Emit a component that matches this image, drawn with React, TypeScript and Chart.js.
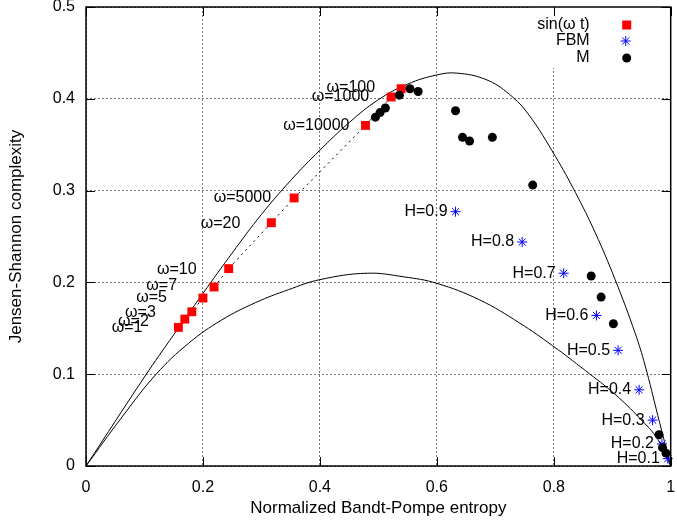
import React, { useEffect, useRef } from 'react';
import { Chart, registerables } from 'chart.js';

Chart.register(...registerables);

const FONT = "'Liberation Sans', Arial, Helvetica, sans-serif";

// Upper (maximum complexity) boundary
const upperH = [0, 0.1, 0.15, 0.2, 0.25, 0.3, 0.35, 0.4, 0.45, 0.5, 0.55, 0.6, 0.634, 0.684, 0.724, 0.758, 0.803, 0.837, 0.871, 0.905, 0.939, 0.956, 0.978, 1];
const upperC = [0, 0.097, 0.143, 0.188, 0.232, 0.274, 0.311, 0.344, 0.374, 0.399, 0.416, 0.426, 0.428, 0.421, 0.405, 0.382, 0.337, 0.298, 0.254, 0.203, 0.145, 0.11, 0.055, 0];

// Lower (minimum complexity) boundary
const lowerH = [0, 0.06, 0.12, 0.176, 0.232, 0.29, 0.346, 0.4, 0.481, 0.544, 0.6, 0.673, 0.741, 0.798, 0.854, 0.905, 0.947, 0.978, 1];
const lowerC = [0, 0.052, 0.1, 0.134, 0.159, 0.178, 0.192, 0.203, 0.21, 0.206, 0.199, 0.181, 0.156, 0.131, 0.104, 0.078, 0.052, 0.029, 0];

// sin(ω t)
const sinH = [0.158, 0.169, 0.181, 0.2, 0.219, 0.244, 0.317, 0.356, 0.478, 0.522, 0.539];
const sinC = [0.151, 0.16, 0.168, 0.183, 0.195, 0.215, 0.265, 0.292, 0.371, 0.402, 0.411];
const sinLabels = ['ω=1', 'ω=2', 'ω=3', 'ω=5', 'ω=7', 'ω=10', 'ω=20', 'ω=5000', 'ω=10000', 'ω=1000', 'ω=100'];
const sinLabelDx = [-36, -36, -36, -36, -37, -32, -31, -23, -16, -22, -26];
const sinLabelDy = [0, 2, 1, 0, -1, 1, 1, 0, 0, 0, -1];

// FBM
const fbmH = [0.632, 0.746, 0.817, 0.873, 0.91, 0.946, 0.969, 0.985, 0.995];
const fbmC = [0.277, 0.244, 0.21, 0.164, 0.126, 0.083, 0.05, 0.024, 0.008];
const fbmLabels = ['H=0.9', 'H=0.8', 'H=0.7', 'H=0.6', 'H=0.5', 'H=0.4', 'H=0.3', 'H=0.2', 'H=0.1'];

// M
const mH = [0.495, 0.503, 0.512, 0.536, 0.554, 0.568, 0.632, 0.644, 0.656, 0.695, 0.764, 0.864, 0.881, 0.902, 0.98, 0.986, 0.992];
const mC = [0.38, 0.385, 0.39, 0.404, 0.411, 0.408, 0.387, 0.358, 0.354, 0.358, 0.306, 0.207, 0.184, 0.155, 0.034, 0.02, 0.014];

const xTicks = [0, 0.2, 0.4, 0.6, 0.8, 1];
const xTickLabels = ['0', '0.2', '0.4', '0.6', '0.8', '1'];
const yTicks = [0, 0.1, 0.2, 0.3, 0.4, 0.5];
const yTickLabels = ['0', '0.1', '0.2', '0.3', '0.4', '0.5'];
const legendLabels = ['sin(ω t)', 'FBM', 'M'];
const xTitle = 'Normalized Bandt-Pompe entropy';
const yTitle = 'Jensen-Shannon complexity';

const pts = (xs: number[], ys: number[]) => xs.map((x, i) => ({ x, y: ys[i] }));

function drawStar(ctx: CanvasRenderingContext2D, x: number, y: number, r: number) {
  ctx.beginPath();
  for (let k = 0; k < 4; k++) {
    const a = (k * Math.PI) / 4;
    ctx.moveTo(x - Math.cos(a) * r, y - Math.sin(a) * r);
    ctx.lineTo(x + Math.cos(a) * r, y + Math.sin(a) * r);
  }
  ctx.stroke();
}

const framePlugin = {
  id: 'frame',
  beforeDatasetsDraw(chart: any) {
    const { ctx, chartArea: a } = chart;
    ctx.save();
    ctx.fillStyle = '#ffffff';
    ctx.fillRect(a.right - 140, a.top, 140, 61);
    ctx.restore();
  },
  afterDatasetsDraw(chart: any) {
    const { ctx, chartArea: a, scales } = chart;
    const xs = scales.x;
    const ys = scales.y;
    ctx.save();
    ctx.strokeStyle = '#000';
    ctx.lineWidth = 1;
    ctx.setLineDash([]);
    ctx.beginPath();
    xTicks.forEach((v) => {
      const px = Math.round(xs.getPixelForValue(v)) + 0.5;
      ctx.moveTo(px, a.bottom);
      ctx.lineTo(px, a.bottom - 9);
      ctx.moveTo(px, a.top);
      ctx.lineTo(px, a.top + 9);
    });
    yTicks.forEach((v) => {
      const py = Math.round(ys.getPixelForValue(v)) + 0.5;
      ctx.moveTo(a.left, py);
      ctx.lineTo(a.left + 9, py);
      ctx.moveTo(a.right, py);
      ctx.lineTo(a.right - 9, py);
    });
    ctx.stroke();
    ctx.lineWidth = 1.5;
    ctx.strokeRect(a.left, a.top, a.right - a.left, a.bottom - a.top);

    ctx.font = `16px ${FONT}`;
    ctx.fillStyle = '#000';
    ctx.textAlign = 'right';
    ctx.textBaseline = 'middle';
    sinLabels.forEach((t, i) => {
      ctx.fillText(t, xs.getPixelForValue(sinH[i]) + sinLabelDx[i], ys.getPixelForValue(sinC[i]) + sinLabelDy[i]);
    });
    fbmLabels.forEach((t, i) => {
      ctx.fillText(t, xs.getPixelForValue(fbmH[i]) - 8, ys.getPixelForValue(fbmC[i]));
    });

    // legend
    const rows = [a.top + 18, a.top + 34, a.top + 51];
    const tx = a.right - 81;
    const sx = a.right - 44;
    legendLabels.forEach((t, i) => ctx.fillText(t, tx, rows[i]));
    ctx.fillStyle = '#ff0000';
    ctx.fillRect(sx - 4.5, rows[0] - 4.5, 9, 9);
    ctx.strokeStyle = '#0000ff';
    ctx.lineWidth = 1;
    drawStar(ctx, sx - 1, rows[1], 5);
    ctx.fillStyle = '#000';
    ctx.beginPath();
    ctx.arc(sx, rows[2], 4.5, 0, Math.PI * 2);
    ctx.fill();
    ctx.restore();
  },
};

export default function App() {
  const ref = useRef<HTMLCanvasElement>(null);
  useEffect(() => {
    if (!ref.current) return;
    const tickFont = { family: FONT, size: 16 };
    const titleFont = { family: FONT, size: 17 };
    const chart = new Chart(ref.current, {
      type: 'scatter',
      data: {
        datasets: [
          {
            label: 'M',
            data: pts(mH, mC),
            pointStyle: 'circle',
            pointRadius: 4.5,
            pointBackgroundColor: '#000',
            pointBorderColor: '#000',
            pointBorderWidth: 0,
            showLine: false,
            clip: false,
          },
          {
            label: 'FBM',
            data: pts(fbmH, fbmC),
            pointStyle: 'star',
            pointRadius: 5,
            pointBorderColor: '#0000ff',
            pointBackgroundColor: '#0000ff',
            pointBorderWidth: 1,
            showLine: false,
            clip: false,
          },
          {
            label: 'sin(ω t)',
            data: pts(sinH, sinC),
            pointStyle: 'rect',
            pointRadius: 6.3,
            pointBackgroundColor: '#ff0000',
            pointBorderColor: '#ff0000',
            pointBorderWidth: 0,
            showLine: true,
            borderColor: '#000',
            borderWidth: 1,
            borderDash: [2, 4],
            clip: false,
          },
          {
            label: 'upper',
            data: pts(upperH, upperC),
            showLine: true,
            pointRadius: 0,
            borderColor: '#000',
            borderWidth: 1,
            tension: 0.4,
          },
          {
            label: 'lower',
            data: pts(lowerH, lowerC),
            showLine: true,
            pointRadius: 0,
            borderColor: '#000',
            borderWidth: 1,
            tension: 0.4,
          },
        ],
      },
      options: {
        animation: false,
        responsive: false,
        devicePixelRatio: 1,
        layout: { padding: { left: 0, right: 1, top: 7, bottom: 0 } },
        plugins: { legend: { display: false }, tooltip: { enabled: false } },
        scales: {
          x: {
            type: 'linear',
            min: 0,
            max: 1,
            afterBuildTicks: (s: any) => {
              s.ticks = xTicks.map((v) => ({ value: v }));
            },
            afterFit: (s: any) => {
              s.height = 58;
              s.paddingLeft = 0;
              s.paddingRight = 0;
            },
            ticks: {
              autoSkip: false,
              maxRotation: 0,
              padding: 12,
              color: '#000',
              font: tickFont,
              callback: (_v: any, i: number) => xTickLabels[i],
            },
            grid: { color: '#777', lineWidth: 1, drawTicks: false },
            border: { display: false, dash: [2, 2] },
            title: { display: true, text: xTitle, color: '#000', font: titleFont, padding: { top: 0, bottom: 5 } },
          },
          y: {
            type: 'linear',
            min: 0,
            max: 0.5,
            afterBuildTicks: (s: any) => {
              s.ticks = yTicks.map((v) => ({ value: v }));
            },
            afterFit: (s: any) => {
              s.width = 86;
              s.paddingTop = 0;
              s.paddingBottom = 0;
            },
            ticks: {
              autoSkip: false,
              padding: 11,
              color: '#000',
              font: tickFont,
              callback: (_v: any, i: number) => yTickLabels[i],
            },
            grid: { color: '#777', lineWidth: 1, drawTicks: false },
            border: { display: false, dash: [2, 2] },
            title: { display: true, text: yTitle, color: '#000', font: titleFont, padding: { top: 6, bottom: 0 } },
          },
        },
      },
      plugins: [framePlugin],
    } as any);
    return () => chart.destroy();
  }, []);
  return (
    <div style={{ position: 'absolute', left: 0, top: 0, width: 677, height: 524, background: '#fff' }}>
      <canvas ref={ref} width={677} height={524} style={{ display: 'block', width: 677, height: 524 }} />
    </div>
  );
}
